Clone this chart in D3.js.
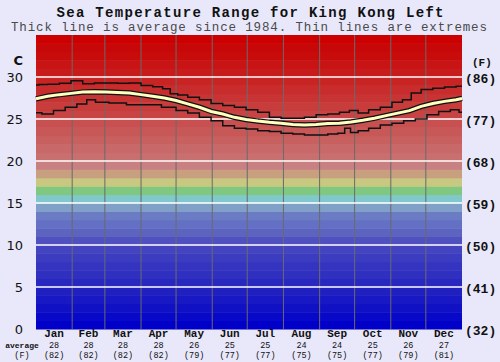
<!DOCTYPE html>
<html>
<head>
<meta charset="utf-8">
<script src="https://cdn.jsdelivr.net/npm/d3@7/dist/d3.min.js"></script>
<style>
  body { margin: 0; background: #e8e8fa; }
  svg { display: block; }
</style>
</head>
<body>
<div id="container"></div>
<script>
// month names and their day lengths
const months = ['Jan','Feb','Mar','Apr','May','Jun','Jul','Aug','Sep','Oct','Nov','Dec'];
const monthDays = [31,28,31,30,31,30,31,31,30,31,30,31];
const monthAvgC = [28,28,28,28,26,25,25,24,24,25,26,27];
const monthAvgF = [82,82,82,82,79,77,77,75,75,77,79,81];

// left / right tick labels
const ticksC = [0,5,10,15,20,25,30];
const ticksF = [32,41,50,59,68,77,86];

// average temperature (day of year, deg C)
const avgDays = [0,10,20,30,40,50,60,70,80,90,100,110,120,130,140,150,160,170,180,190,200,210,220,230,240,250,260,270,280,290,300,310,320,330,340,350,360,365];
const avgTemp = [27.4,27.7,27.9,28.05,28.2,28.25,28.2,28.15,28.1,27.9,27.7,27.5,27.2,26.8,26.4,25.9,25.6,25.2,24.95,24.75,24.6,24.5,24.35,24.3,24.35,24.45,24.5,24.65,24.85,25.1,25.4,25.7,26.0,26.5,26.85,27.1,27.3,27.45];

// highest recorded
const maxDays = [0,5,15,25,35,45,55,65,75,85,95,105,112,118,125,135,145,155,165,175,185,195,205,215,225,235,245,255,265,272,280,290,300,310,318,325,335,345,355,365];
const maxTemp = [29.05,29.1,29.15,29.25,29.55,29.2,29.3,29.3,29.25,29.3,29.0,28.85,28.6,28.0,27.85,27.6,27.3,26.85,26.6,26.4,26.1,25.8,25.2,25.1,25.1,25.2,25.5,25.6,25.8,26.0,25.7,26.1,26.4,27.0,27.3,28.1,28.5,28.65,28.8,28.9];

// lowest recorded
const minDays = [0,10,20,30,40,47,55,70,85,100,115,125,135,145,155,165,175,185,195,205,215,225,235,245,255,262,267,272,280,290,300,310,320,330,340,350,360,365];
const minTemp = [25.75,25.6,26.0,26.4,26.8,27.3,27.0,26.9,26.7,26.7,26.4,26.0,25.7,25.2,24.8,24.2,23.9,23.8,23.6,23.5,23.3,23.2,23.1,23.1,23.2,23.3,23.9,23.4,23.6,23.9,24.3,24.5,24.8,25.0,25.5,25.9,26.1,25.8];

// one colour per degree band, 0..35
const bandColors = [
  '#0000c8','#0808c8','#1010c4','#1818c4','#2020c0',
  '#2828c0','#3030c0','#3434c0','#3c3cc0','#4444c0',
  '#5050c0','#5c64c0','#6470c4','#6c7cc4','#80a0c8',
  '#80c8cc','#80c880','#c8c880','#c8a080','#c88080',
  '#c87070','#c86868','#c86060','#c85858','#c85050',
  '#c84444','#c83c3c','#c83434','#c82c2c','#c82424',
  '#c81c1c','#c81414','#c80c0c','#c80808','#cc0000'
];

const W = 500, H = 362;
const plot = { left: 36, right: 462, top: 35, bottom: 329 };

const svg = d3.select('#container')
  .append('svg')
  .attr('width', W)
  .attr('height', H);

svg.append('rect').attr('width', W).attr('height', H).attr('fill', '#e8e8fa');

// scales
const x = d3.scaleLinear().domain([0, 365]).range([plot.left, plot.right]);
const y = d3.scaleLinear().domain([0, 35]).range([plot.bottom, plot.top]);

// colour bands
svg.append('g')
  .selectAll('rect')
  .data(bandColors)
  .join('rect')
  .attr('x', plot.left)
  .attr('width', plot.right - plot.left)
  .attr('y', (d, i) => y(i + 1))
  .attr('height', (d, i) => y(i) - y(i + 1) + 0.5)
  .attr('fill', d => d);

// month boundaries
const monthStart = d3.cumsum([0, ...monthDays]);
svg.append('g')
  .selectAll('line')
  .data(monthStart.slice(1, 12))
  .join('line')
  .attr('x1', d => x(d)).attr('x2', d => x(d))
  .attr('y1', plot.top).attr('y2', plot.bottom)
  .attr('stroke', '#6a6a6a')
  .attr('stroke-width', 1);

// white grid lines every 5 degrees
svg.append('g')
  .selectAll('line')
  .data(ticksC.filter(d => d > 0))
  .join('line')
  .attr('x1', plot.left).attr('x2', plot.right)
  .attr('y1', d => y(d)).attr('y2', d => y(d))
  .attr('stroke', '#fff')
  .attr('stroke-width', 1.5);

// lines
const line = d3.line().x(d => x(d[0])).y(d => y(d[1]));
const stepLine = d3.line().curve(d3.curveStep).x(d => x(d[0])).y(d => y(d[1]));

const maxData = d3.zip(maxDays, maxTemp);
const minData = d3.zip(minDays, minTemp);
const avgData = d3.zip(avgDays, avgTemp);

[maxData, minData].forEach(data => {
  svg.append('path')
    .attr('d', stepLine(data))
    .attr('fill', 'none')
    .attr('stroke', '#111')
    .attr('stroke-width', 1.5);
});

svg.append('path')
  .attr('d', line(avgData))
  .attr('fill', 'none')
  .attr('stroke', '#111')
  .attr('stroke-width', 5.5);
svg.append('path')
  .attr('d', line(avgData))
  .attr('fill', 'none')
  .attr('stroke', '#ffffc0')
  .attr('stroke-width', 3);

// titles
svg.append('text')
  .attr('x', 250).attr('y', 17)
  .attr('text-anchor', 'middle')
  .attr('font-family', 'Liberation Mono, monospace')
  .attr('font-weight', 'bold')
  .attr('font-size', 14)
  .attr('textLength', 387)
  .attr('lengthAdjust', 'spacing')
  .attr('fill', '#111')
  .text('Sea Temperature Range for King Kong Left');

svg.append('text')
  .attr('x', 249).attr('y', 31)
  .attr('text-anchor', 'middle')
  .attr('font-family', 'Liberation Mono, monospace')
  .attr('font-size', 12.5)
  .attr('textLength', 476)
  .attr('lengthAdjust', 'spacing')
  .attr('fill', '#4a4a4a')
  .text('Thick line is average since 1984. Thin lines are extremes');

// left axis (C)
const leftAxis = svg.append('g')
  .attr('font-family', 'DejaVu Sans, sans-serif')
  .attr('font-size', 13)
  .attr('fill', '#111');
leftAxis.selectAll('text')
  .data(ticksC)
  .join('text')
  .attr('x', 23)
  .attr('y', d => y(d) + 5)
  .attr('text-anchor', 'end')
  .text(d => d);
leftAxis.append('text')
  .attr('x', 23).attr('y', 65)
  .attr('text-anchor', 'end')
  .attr('font-weight', 'bold')
  .text('C');

// right axis (F)
const rightAxis = svg.append('g')
  .attr('font-family', 'Liberation Mono, monospace')
  .attr('font-weight', 'bold')
  .attr('font-size', 13)
  .attr('fill', '#111');
rightAxis.selectAll('text')
  .data(ticksF)
  .join('text')
  .attr('x', 465)
  .attr('y', (d, i) => y(ticksC[i]) + 6)
  .text(d => `(${d})`);
rightAxis.append('text')
  .attr('x', 472).attr('y', 66)
  .attr('font-size', 11)
  .text('(F)');

// bottom month labels
const monthMid = months.map((m, i) => monthStart[i] + monthDays[i] / 2);
const bottom = svg.append('g')
  .attr('font-family', 'Liberation Mono, monospace')
  .attr('font-weight', 'bold')
  .attr('fill', '#111')
  .attr('text-anchor', 'middle');
bottom.selectAll('.m')
  .data(months)
  .join('text')
  .attr('class', 'm')
  .attr('x', (d, i) => x(monthMid[i]))
  .attr('y', 337)
  .attr('font-size', 11)
  .text(d => d);
bottom.selectAll('.c')
  .data(monthAvgC)
  .join('text')
  .attr('class', 'c')
  .attr('x', (d, i) => x(monthMid[i]))
  .attr('y', 347.5)
  .attr('font-size', 8.5)
  .attr('font-weight', 'normal')
  .text(d => d);
bottom.selectAll('.f')
  .data(monthAvgF)
  .join('text')
  .attr('class', 'f')
  .attr('x', (d, i) => x(monthMid[i]))
  .attr('y', 357.5)
  .attr('font-size', 8.5)
  .attr('font-weight', 'normal')
  .text(d => `(${d})`);
bottom.append('text')
  .attr('x', 22).attr('y', 347.5)
  .attr('font-size', 8)
  .text('average');
bottom.append('text')
  .attr('x', 22).attr('y', 357.5)
  .attr('font-size', 8.5)
  .attr('font-weight', 'normal')
  .text('(F)');
</script>
</body>
</html>
